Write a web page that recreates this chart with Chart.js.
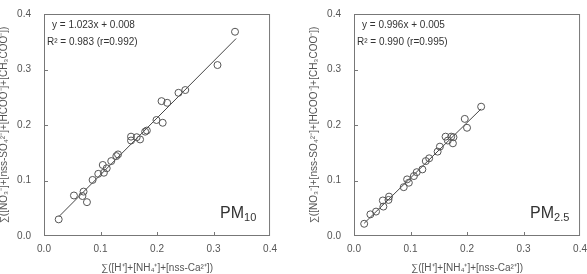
<!DOCTYPE html>
<html>
<head>
<meta charset="utf-8">
<script src="https://cdn.jsdelivr.net/npm/chart.js@4"></script>
<style>
    html, body { margin: 0; padding: 0; background: #fff; }
    body { width: 587px; height: 274px; position: relative; overflow: hidden; }
    .box { position: absolute; top: -5px; width: 290px; height: 279px; }
    #boxPM10 { left: -6px; }
    #boxPM25 { left: 304px; }
</style>
</head>
<body>
<div class="box" id="boxPM10"><canvas id="chartPM10"></canvas></div>
<div class="box" id="boxPM25"><canvas id="chartPM25"></canvas></div>
<script>
const pm10X = [0.026, 0.053, 0.068, 0.070, 0.076, 0.086, 0.096, 0.104, 0.106, 0.111, 0.119, 0.128, 0.131,
    0.154, 0.154, 0.164, 0.170, 0.179, 0.182, 0.199, 0.210, 0.208, 0.218, 0.238, 0.250, 0.307, 0.338];
const pm10Y = [0.030, 0.073, 0.072, 0.080, 0.061, 0.101, 0.112, 0.128, 0.114, 0.122, 0.135, 0.144, 0.147,
    0.179, 0.172, 0.178, 0.174, 0.188, 0.190, 0.209, 0.204, 0.243, 0.240, 0.258, 0.263, 0.308, 0.368];

const pm25X = [0.018, 0.029, 0.039, 0.051, 0.052, 0.062, 0.061, 0.088, 0.094, 0.097, 0.106, 0.111, 0.121,
    0.127, 0.133, 0.148, 0.152, 0.162, 0.166, 0.172, 0.175, 0.176, 0.196, 0.200, 0.225];
const pm25Y = [0.022, 0.039, 0.044, 0.064, 0.053, 0.071, 0.065, 0.088, 0.102, 0.096, 0.108, 0.115, 0.120,
    0.135, 0.140, 0.152, 0.161, 0.179, 0.172, 0.179, 0.167, 0.178, 0.211, 0.195, 0.233];

// regression: slope, intercept, x range of the fitted line
const pm10Fit = [1.023, 0.008];
const pm10FitRange = [0.026, 0.340];
const pm25Fit = [0.996, 0.005];
const pm25FitRange = [0.018, 0.225];

const axisTicks = [0.0, 0.1, 0.2, 0.3, 0.4];

const xTitle = '∑([H⁺]+[NH₄⁺]+[nss-Ca²⁺])';
const yTitle = '∑([NO₃⁻]+[nss-SO₄²⁻]+[HCOO⁻]+[CH₃COO⁻])';

const FONT = "'Liberation Sans', Arial, sans-serif";
const TEXT = '#555';
const AXIS = '#777';

Chart.defaults.font.family = FONT;
Chart.defaults.color = TEXT;

// frame + inward ticks + equation text + PM label
const decorPlugin = {
    id: 'decor',
    afterDraw(chart, args, opts) {
        const { ctx, chartArea: a, scales } = chart;
        ctx.save();
        ctx.strokeStyle = AXIS;
        ctx.lineWidth = 1;
        ctx.strokeRect(a.left + 0.5, a.top + 0.5, a.right - a.left - 1, a.bottom - a.top - 1);
        ctx.beginPath();
        axisTicks.slice(1, -1).forEach(v => {
            const px = Math.round(scales.x.getPixelForValue(v)) + 0.5;
            ctx.moveTo(px, a.bottom);
            ctx.lineTo(px, a.bottom - 4);
            const py = Math.round(scales.y.getPixelForValue(v)) + 0.5;
            ctx.moveTo(a.left, py);
            ctx.lineTo(a.left + 4, py);
        });
        ctx.stroke();

        ctx.fillStyle = '#333';
        ctx.font = '10px ' + FONT;
        ctx.textBaseline = 'middle';
        ctx.fillText(opts.eq, a.left + 8, a.top + 11);
        ctx.fillText(opts.r2, a.left + 3, a.top + 28);

        ctx.textBaseline = 'alphabetic';
        ctx.font = '16px ' + FONT;
        const x0 = a.right - 50;
        const y0 = a.bottom - 18;
        ctx.fillText('PM', x0, y0);
        const w = ctx.measureText('PM').width;
        ctx.font = '11px ' + FONT;
        ctx.fillText(opts.sub, x0 + w, y0 + 3);
        ctx.restore();
    }
};

function makeChart(id, xs, ys, fit, range, labels) {
    const points = xs.map((x, i) => ({ x: x, y: ys[i] }));
    const line = range.map(x => ({ x: x, y: fit[0] * x + fit[1] }));
    const axis = (title, isX) => ({
        type: 'linear',
        min: 0,
        max: 0.4,
        afterBuildTicks: s => { s.ticks = axisTicks.map(v => ({ value: v })); },
        afterFit: s => { if (isX) s.height = 38; else s.width = 50; },
        grid: { display: false, drawTicks: false },
        border: { display: false },
        ticks: {
            padding: isX ? 7 : 13,
            font: { size: 10 },
            color: TEXT,
            maxRotation: 0,
            callback: v => v.toFixed(1)
        },
        title: {
            display: true,
            text: title,
            font: { size: 10 },
            color: TEXT,
            padding: isX ? { top: 0, bottom: 0 } : { top: 4, bottom: 2 }
        }
    });
    return new Chart(document.getElementById(id), {
        type: 'scatter',
        data: {
            datasets: [{
                data: points,
                pointStyle: 'circle',
                pointRadius: 3.5,
                pointBorderWidth: 1,
                borderColor: '#555',
                backgroundColor: 'rgba(255,255,255,0)'
            }, {
                type: 'line',
                data: line,
                borderColor: '#444',
                borderWidth: 1,
                pointRadius: 0,
                fill: false
            }]
        },
        options: {
            responsive: true,
            maintainAspectRatio: false,
            animation: false,
            layout: { padding: { top: 0, right: 5, left: 0, bottom: 0 } },
            plugins: {
                legend: { display: false },
                tooltip: { enabled: false },
                decor: labels
            },
            scales: {
                x: axis(xTitle, true),
                y: axis(yTitle, false)
            }
        },
        plugins: [decorPlugin]
    });
}

makeChart('chartPM10', pm10X, pm10Y, pm10Fit, pm10FitRange,
    { eq: 'y = 1.023x + 0.008', r2: 'R² = 0.983 (r=0.992)', sub: '10' });
makeChart('chartPM25', pm25X, pm25Y, pm25Fit, pm25FitRange,
    { eq: 'y = 0.996x + 0.005', r2: 'R² = 0.990 (r=0.995)', sub: '2.5' });
</script>
</body>
</html>
